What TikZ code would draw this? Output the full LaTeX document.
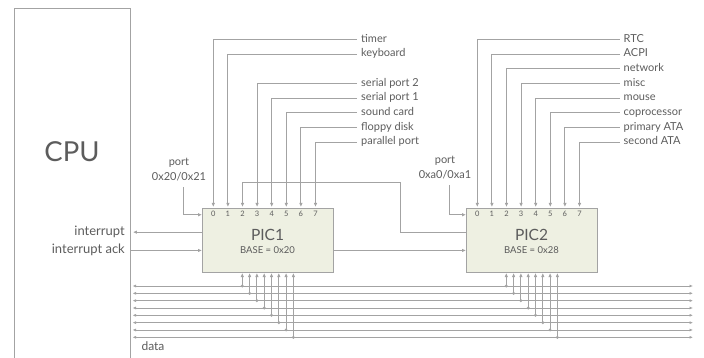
\documentclass[tikz,border=0pt]{standalone}
\usepackage{fontspec}
\setmainfont{Lato}
\usetikzlibrary{arrows.meta}
\definecolor{wiregray}{HTML}{A3A3A3}
\definecolor{inkgray}{HTML}{5C5C5C}
\definecolor{picfill}{HTML}{EEF0E2}

\begin{document}
\begin{tikzpicture}[x=1pt, y=-1pt, font=\fontsize{11}{13}\selectfont, text=inkgray]
  \useasboundingbox (0,0) rectangle (704,358);
  \clip (0,0) rectangle (704,358);
  \tikzset{wire/.style={draw=wiregray, line width=0.9pt, -{Latex[length=4pt,width=3.5pt]}},
           buswire/.style={draw=wiregray, line width=0.9pt, {Latex[length=3.5pt,width=3pt]}-{Latex[length=3.5pt,width=3pt]}},
           picbox/.style={draw=wiregray, fill=picfill, line width=0.9pt, anchor=north west,
                          minimum width=131pt, minimum height=64pt, inner sep=0pt},
           lbl/.style={anchor=west, inner xsep=4pt, inner ysep=0pt, text height=8pt, text depth=2.5pt},
           cpulbl/.style={anchor=east, inner sep=0pt, font=\fontsize{13}{15}\selectfont},
           pin/.style={font=\fontsize{7.5}{8}\selectfont, inner sep=0pt}}
  % ---- CPU ----
  \node[draw=wiregray, line width=0.9pt, anchor=north west, minimum width=116pt, minimum height=380pt] (cpu) at (14,8) {};
  \node[font=\fontsize{27.5}{30}\selectfont] (cpuname) at (72,152) {CPU};
  % ---- the two controllers, pins and bus taps ----
  \foreach \n/\x/\base in {1/202/0x20, 2/466/0x28} {
    \node[picbox] (pic\n) at (\x,208) {};
    \node[font=\fontsize{15.5}{18}\selectfont] (pic\n-name) at (\x+65.5,235) {PIC\n};
    \node[font=\fontsize{9.5}{11}\selectfont] (pic\n-base) at (\x+65.5,250) {BASE = \base};
    \foreach \k in {0,...,7} {
      \node[pin] (pic\n-pin\k) at (\x+11.3+14.6*\k,214) {\k};
      \coordinate (pic\n-in\k) at (\x+11.3+14.6*\k,207);
      \coordinate (pic\n-bus\k) at (\x+40.3+7.3*\k,273);
    }
  }
  % ---- interrupt request lines ----
  \foreach \k/\t in {0/timer, 1/keyboard, 3/serial port 2, 4/serial port 1, 5/sound card, 6/floppy disk, 7/parallel port} {
    \node[lbl] (irqa\k) at (357,39.3+14.7*\k) {\t};
    \draw[wire] (irqa\k.west) -| (pic1-in\k);
  }
  \foreach \k/\t in {0/RTC, 1/ACPI, 2/network, 3/misc, 4/mouse, 5/coprocessor, 6/primary ATA, 7/second ATA} {
    \node[lbl] (irqb\k) at (619.5,39.3+14.7*\k) {\t};
    \draw[wire] (irqb\k.west) -| (pic2-in\k);
  }
  % ---- cascade and CPU handshake ----
  \coordinate (pic2out) at ([yshift=8.3pt]pic2.west);
  \coordinate (cascade) at (400.7,182.3);
  \draw[wire] (pic2out) -| (cascade) -| (pic1-in2);
  \draw[wire] ([yshift=-10pt]pic1.east) -- ([yshift=-10pt]pic2.west);
  \coordinate (intsrc) at ([yshift=8.3pt]pic1.west);
  \coordinate (acksink) at ([yshift=-10pt]pic1.west);
  \draw[wire, shorten >=2pt] (intsrc) -- (intsrc -| cpu.east);
  \draw[wire] (acksink -| cpu.east) -- (acksink);
  \node[cpulbl] (intlabel) at (125,231.7) {interrupt};
  \node[cpulbl] (acklabel) at (125,250) {interrupt ack};
  % ---- port addresses ----
  \node[align=center, font=\fontsize{11}{15}\selectfont] (port1) at (179,169.5) {port\\0x20/0x21};
  \node[align=center, font=\fontsize{11}{15}\selectfont] (port2) at (445,168) {port\\0xa0/0xa1};
  \coordinate (port1drop) at (183,187);
  \coordinate (port2drop) at (449.3,185);
  \draw[wire] (port1drop) |- ([yshift=25.7pt]pic1.west);
  \draw[wire] (port2drop) |- ([yshift=25.7pt]pic2.west);
  % ---- data bus ----
  \foreach \k in {0,...,7} {
    \pgfmathsetmacro{\by}{286+7.33*\k}
    \coordinate (busw\k) at (132.5,\by);
    \coordinate (buse\k) at (693,\by);
    \draw[buswire] (busw\k) -- (buse\k);
    \foreach \n in {1,2} {
      \fill[wiregray] (pic\n-bus\k |- busw\k) circle (1.6);
      \draw[wire] (pic\n-bus\k |- busw\k) -- (pic\n-bus\k);
    }
  }
  \node[anchor=west, font=\fontsize{12}{14}\selectfont] (datalabel) at (138,346) {data};
\end{tikzpicture}
\end{document}
